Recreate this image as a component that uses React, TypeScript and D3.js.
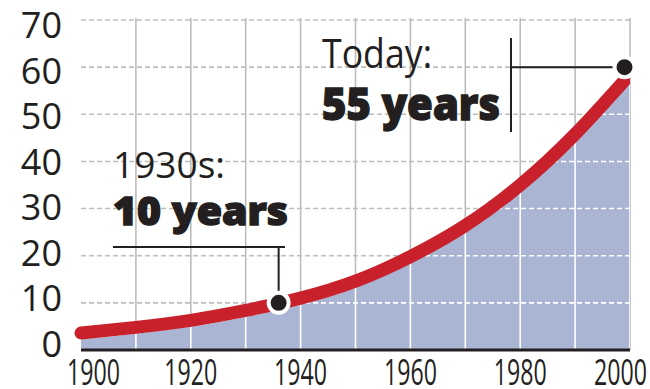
import React from "react";
import * as d3 from "d3";

// values
const years = [1900, 1910, 1920, 1930, 1940, 1950, 1960, 1970, 1980, 1990, 2000];
const values = [3.6, 4.8, 6.3, 8.4, 11, 14.6, 19.8, 26.4, 35.0, 45.8, 58.5];
const yTicks = [0, 10, 20, 30, 40, 50, 60, 70];
const xTicks = [1900, 1920, 1940, 1960, 1980, 2000];
const gridYears = [1910, 1920, 1930, 1940, 1950, 1960, 1970, 1980, 1990, 2000];
const markerYears = [1936, 1999];
const markerValues = [10, 60];
const noteTitles = ["1930s:", "Today:"];
const noteValues = ["10 years", "55 years"];

const W = 650;
const H = 389;
const INK = "#231f20";
const RED = "#c8212b";
const FILL = "#aab4d3";
const LINE_W = 13;
const FONT = "'Open Sans', 'Noto Sans', sans-serif";

export default function App() {
  const x = d3.scaleLinear().domain([1900, 2000]).range([81, 630]);
  const y = d3.scaleLinear().domain([0, 70]).range([350, 20]);
  // tick labels sit on a slightly tighter spacing than the grid
  const yLabel = d3.scaleLinear().domain([0, 70]).range([357, 38]);

  const pts = years.map((yr, i) => [yr, values[i]] as [number, number]);

  const line = d3
    .line<[number, number]>()
    .x(d => x(d[0]))
    .y(d => y(d[1]))
    .curve(d3.curveNatural);

  const area = d3
    .area<[number, number]>()
    .x(d => x(d[0]))
    .y0(y(0))
    .y1(d => y(d[1]) + LINE_W / 2)
    .curve(d3.curveNatural);

  const areaPath = area(pts) || "";

  const grid = (color: string) => (
    <g>
      {gridYears.map(g => (
        <line key={"v" + g} x1={x(g)} x2={x(g)} y1={y(70) - 2} y2={y(0)} stroke={color} strokeWidth={1.6} />
      ))}
      {yTicks.filter(t => t > 0).map(t => (
        <line
          key={"h" + t}
          x1={x(1900)}
          x2={x(2000)}
          y1={y(t)}
          y2={y(t)}
          stroke={color}
          strokeWidth={1.6}
          strokeDasharray="5,3"
        />
      ))}
    </g>
  );

  const m1 = { cx: x(markerYears[0]), cy: y(markerValues[0]) };
  const m2 = { cx: x(markerYears[1]), cy: y(markerValues[1]) };

  return (
    <svg
      width={W}
      height={H}
      viewBox={`0 0 ${W} ${H}`}
      style={{ position: "absolute", left: 0, top: 0, background: "#fff" }}
      fontFamily={FONT}
    >
      <defs>
        <clipPath id="areaClip">
          <path d={areaPath} />
        </clipPath>
        <clipPath id="lineClip">
          <rect x={0} y={0} width={x(2000)} height={H} />
        </clipPath>
      </defs>

      {/* y tick labels */}
      {yTicks.map(t => (
        <text key={t} x={62} y={yLabel(t)} textAnchor="end" fontSize={36} fill={INK}>
          {t}
        </text>
      ))}

      {/* x tick labels */}
      {xTicks.map((t, i) => {
        const first = i === 0;
        const last = i === xTicks.length - 1;
        return (
          <text
            key={t}
            x={first ? x(t) - 14 : last ? x(t) + 17 : x(t)}
            y={385}
            textAnchor={first ? "start" : last ? "end" : "middle"}
            fontSize={36}
            textLength={53}
            lengthAdjust="spacingAndGlyphs"
            fill={INK}
          >
            {t}
          </text>
        );
      })}

      {grid("#bdbdbd")}

      <path d={areaPath} fill={FILL} />
      <g clipPath="url(#areaClip)">{grid("#ffffff")}</g>

      <line x1={x(1900)} x2={x(2000)} y1={y(0)} y2={y(0)} stroke={INK} strokeWidth={3} />

      <path
        d={line(pts) || ""}
        fill="none"
        stroke={RED}
        strokeWidth={LINE_W}
        strokeLinecap="round"
        clipPath="url(#lineClip)"
      />

      {/* 1930s note */}
      <text x={113} y={178} fontSize={36} fill={INK} textLength={112} lengthAdjust="spacingAndGlyphs">
        {noteTitles[0]}
      </text>
      <text
        x={113}
        y={225}
        fontSize={38}
        fontWeight={800}
        fill={INK}
        stroke={INK}
        strokeWidth={1.4}
        textLength={175}
        lengthAdjust="spacingAndGlyphs"
      >
        {noteValues[0]}
      </text>
      <line x1={113} x2={285} y1={247} y2={247} stroke={INK} strokeWidth={2} />
      <line x1={m1.cx} x2={m1.cx} y1={247} y2={m1.cy} stroke={INK} strokeWidth={2} />

      {/* today note */}
      <text x={322} y={68} fontSize={40} fill={INK} textLength={110} lengthAdjust="spacingAndGlyphs">
        {noteTitles[1]}
      </text>
      <text
        x={322}
        y={120}
        fontSize={44}
        fontWeight={800}
        fill={INK}
        stroke={INK}
        strokeWidth={1.4}
        textLength={178}
        lengthAdjust="spacingAndGlyphs"
      >
        {noteValues[1]}
      </text>
      <line x1={511} x2={511} y1={38} y2={132} stroke={INK} strokeWidth={2} />
      <line x1={511} x2={m2.cx} y1={m2.cy} y2={m2.cy} stroke={INK} strokeWidth={2} />

      {[m1, m2].map((m, i) => (
        <circle key={i} cx={m.cx} cy={m.cy} r={10} fill={INK} stroke="#fff" strokeWidth={4} />
      ))}
    </svg>
  );
}
